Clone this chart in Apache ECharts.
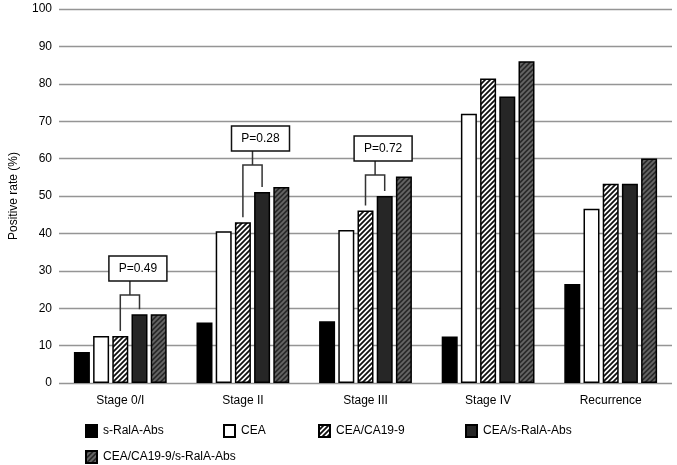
<!DOCTYPE html>
<html>
<head>
<meta charset="utf-8">
<script src="https://cdn.jsdelivr.net/npm/echarts@6/dist/echarts.min.js"></script>
<style>
  html, body { margin: 0; padding: 0; background: #fff; }
  #chart { width: 677px; height: 465px; }
</style>
</head>
<body>
<div id="chart"></div>
<script>
const categories = ['Stage 0/I', 'Stage II', 'Stage III', 'Stage IV', 'Recurrence']
const seriesNames = ['s-RalA-Abs', 'CEA', 'CEA/CA19-9', 'CEA/s-RalA-Abs', 'CEA/CA19-9/s-RalA-Abs']

const sRalA = [8.3, 16.2, 16.5, 12.4, 26.5]
const cea = [12.6, 40.6, 40.9, 72.0, 46.6]
const ceaCa199 = [12.6, 43.0, 46.1, 81.4, 53.3]
const ceaSRalA = [18.4, 51.1, 50.0, 76.6, 53.3]
const ceaCa199SRalA = [18.4, 52.4, 55.2, 86.0, 60.0]

// P-value brackets: category, bracket height, label
const pCategories = [0, 1, 2]
const pBracketY = [23.5, 58.3, 55.6]
const pLabels = ['P=0.49', 'P=0.28', 'P=0.72']

const FONT = '"Liberation Sans", Arial, sans-serif'
const BAR_W = 16
const BAR_GAP = 0.2
const PITCH = BAR_W * (1 + BAR_GAP)

function hatch(bg, fg) {
  const s = 5
  const c = document.createElement('canvas')
  c.width = s
  c.height = s
  const ctx = c.getContext('2d')
  ctx.fillStyle = bg
  ctx.fillRect(0, 0, s, s)
  ctx.strokeStyle = fg
  ctx.lineWidth = 1.8
  ctx.beginPath()
  ctx.moveTo(-1, s + 1); ctx.lineTo(s + 1, -1)
  ctx.moveTo(-1, 1); ctx.lineTo(1, -1)
  ctx.moveTo(s - 1, s + 1); ctx.lineTo(s + 1, s - 1)
  ctx.stroke()
  return { image: c, repeat: 'repeat' }
}

const fills = ['#000000', '#ffffff', hatch('#ffffff', '#111111'), '#262626', hatch('#2a2a2a', '#666666')]
const values = [sRalA, cea, ceaCa199, ceaSRalA, ceaCa199SRalA]

const legendLeft = [85, 223, 318, 465, 85]
const legendTop = [424, 424, 424, 424, 450]

const chart = echarts.init(document.getElementById('chart'))

const barSeries = seriesNames.map((name, i) => ({
  name,
  type: 'bar',
  data: values[i],
  barWidth: BAR_W,
  barGap: (BAR_GAP * 100) + '%',
  itemStyle: { color: fills[i], borderColor: '#000', borderWidth: 1.5 },
  emphasis: { disabled: true },
}))

const bracketData = pCategories.map((c, k) => [c, pBracketY[k], values[2][c], values[3][c]])

const bracketSeries = {
  type: 'custom',
  data: bracketData,
  z: 10,
  clip: false,
  silent: true,
  renderItem: (params, api) => {
    const cat = api.value(0)
    const top = api.coord([cat, api.value(1)])
    const cx = top[0]
    const yb = top[1]
    const xl = cx + (2 - 2) * PITCH
    const xr = cx + (3 - 2) * PITCH
    const yl = api.coord([cat, api.value(2)])[1] - 5
    const yr = api.coord([cat, api.value(3)])[1] - 5
    const xm = (xl + xr) / 2
    const boxW = 58
    const boxH = 25
    const bx = xm + 8 - boxW / 2
    const by = yb - 14 - boxH
    const line = { stroke: '#333', lineWidth: 1.5 }
    return {
      type: 'group',
      children: [
        { type: 'polyline', shape: { points: [[xl, yl], [xl, yb], [xr, yb], [xr, yr]] }, style: Object.assign({ fill: null }, line) },
        { type: 'line', shape: { x1: xm, y1: yb, x2: xm, y2: yb - 14 }, style: line },
        { type: 'rect', shape: { x: bx, y: by, width: boxW, height: boxH }, style: { fill: '#fff', stroke: '#111', lineWidth: 1.5 } },
        {
          type: 'text',
          style: {
            x: bx + boxW / 2, y: by + boxH / 2, text: pLabels[params.dataIndex],
            align: 'center', verticalAlign: 'middle', fill: '#000', font: '12px ' + FONT,
          },
        },
      ],
    }
  },
}

const option = {
  animation: false,
  textStyle: { fontFamily: FONT },
  grid: { left: 53, right: 5, top: 9, bottom: 82, containLabel: false },
  legend: seriesNames.map((name, i) => ({
    data: [name],
    left: legendLeft[i],
    top: legendTop[i],
    padding: 0,
    icon: 'rect',
    itemWidth: 11,
    itemHeight: 12,
    itemGap: 0,
    selectedMode: false,
    textStyle: { fontSize: 12, color: '#000', fontFamily: FONT, padding: [0, 0, 0, 1] },
  })),
  xAxis: {
    type: 'category',
    data: categories,
    axisLine: { show: false },
    axisTick: { show: false },
    axisLabel: { fontSize: 12, color: '#000', margin: 12, fontFamily: FONT },
  },
  yAxis: {
    type: 'value',
    min: 0,
    max: 100,
    interval: 10,
    name: 'Positive rate (%)',
    nameLocation: 'middle',
    nameGap: 39,
    nameTextStyle: { fontSize: 12, color: '#000', fontFamily: FONT },
    axisLine: { show: false },
    axisTick: { show: false },
    axisLabel: { fontSize: 12, color: '#000', margin: 7, fontFamily: FONT },
    splitLine: { lineStyle: { color: '#959595', width: 1.4 } },
  },
  series: barSeries.concat([bracketSeries]),
}

chart.setOption(option)
</script>
</body>
</html>
